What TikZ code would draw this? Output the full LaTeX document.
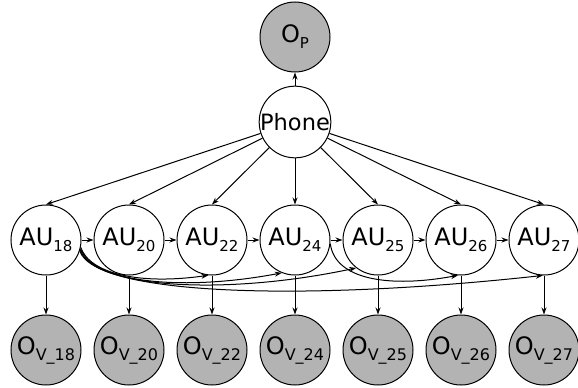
\documentclass[tikz,border=0pt]{standalone}
\usepackage{fontspec}
\setmainfont{DejaVu Sans}
\usetikzlibrary{arrows.meta}
\definecolor{obsgray}{RGB}{179,179,179}
\newcommand{\lbl}[3]{#1\raisebox{-0.25em}{\fontsize{#3}{#3}\selectfont #2}}
\begin{document}
\begin{tikzpicture}[x=1pt,y=-1pt,
  state/.style={circle,draw,line width=1pt,inner sep=0pt,minimum size=70pt,font=\fontsize{24}{24}\selectfont},
  obs/.style={state,fill=obsgray},
  edge/.style={line width=1pt,-{Stealth[length=7pt,width=5pt]}}]
\useasboundingbox (0,0) rectangle (578,388);
\node[obs] (OP) at (295,37) {\lbl{O}{P}{15}};
\node[state,font=\fontsize{22.5}{22.5}\selectfont] (Ph) at (295,122) {Phone};
\foreach \n/\x in {18/46,20/129,22/212,24/295,25/378,26/461,27/544}{
  \node[state] (AU\n) at (\x,240) {\lbl{AU}{\n}{15}};
  \node[obs] (OV\n) at (\x,350) {\lbl{O}{V\_\n}{16}};
  \draw[edge] (AU\n) -- (OV\n);
  \draw[edge] (Ph) -- (AU\n.north);
}
\draw[edge] (Ph) -- (OP);
\draw[edge] (AU18) -- (AU20);
\draw[edge] (AU20) -- (AU22);
\draw[edge] (AU22) -- (AU24);
\draw[edge] (AU24) -- (AU25);
\draw[edge] (AU25) -- (AU26);
\draw[edge] (AU26) -- (AU27);
\draw[edge] (AU18.-12) .. controls (90,274) and (140,285) .. (AU22.-96);
\draw[edge] (AU18.-14) .. controls (92,282) and (180,292) .. (AU24.-112);
\draw[edge] (AU18.-16) .. controls (92,287) and (220,297) .. (AU25.-128);
\draw[edge] (AU18.-18) .. controls (95,295) and (300,302) .. (AU27.-92);
\draw[edge] (AU24.-6) .. controls (335,280) and (390,288) .. (AU26.-95);
\end{tikzpicture}
\end{document}
